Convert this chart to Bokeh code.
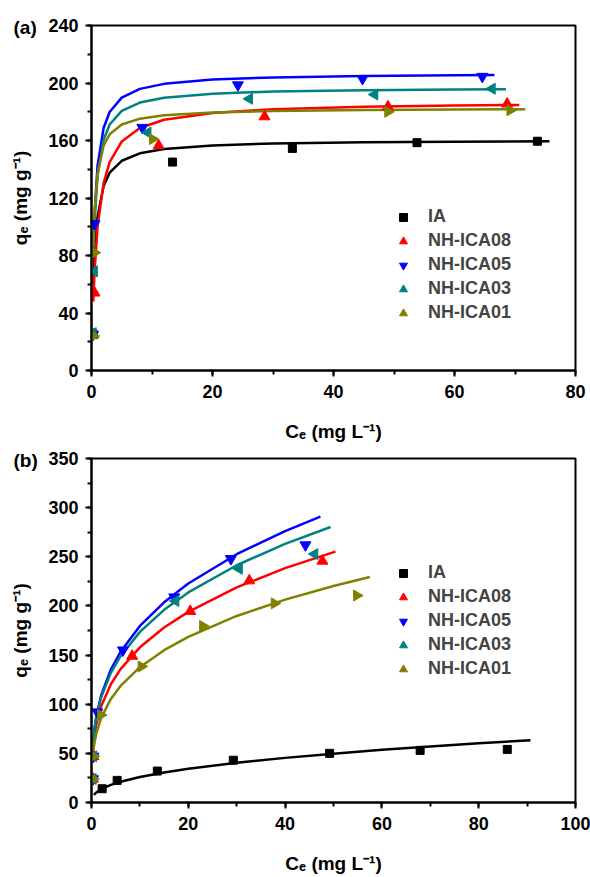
import math
from bokeh.plotting import figure
from bokeh.models import Range1d, Legend, LegendItem, Title, SingleIntervalTicker
from bokeh.layouts import column
from bokeh.embed import file_html
from bokeh.resources import INLINE

SERIES = ["IA", "NH-ICA08", "NH-ICA05", "NH-ICA03", "NH-ICA01"]
COLORS = ["#000000", "#FF0000", "#0000FF", "#008080", "#808000"]

# ---------------- panel (a): measured points ----------------
a_ia_ce = [0.3, 13.4, 33.2, 53.8, 73.7]
a_ia_qe = [25, 145, 154.5, 158.5, 159.5]
a_08_ce = [0.3, 0.5, 11.1, 28.6, 49.0, 68.7]
a_08_qe = [25, 54, 156.5, 176.6, 183.5, 185.5]
a_05_ce = [0.25, 0.5, 8.4, 24.2, 44.8, 64.6]
a_05_qe = [25, 102, 169, 198.6, 203, 204.5]
a_03_ce = [0.25, 0.45, 9.3, 26.1, 46.8, 66.2]
a_03_qe = [26, 69, 165.5, 189, 192, 196]
a_01_ce = [0.3, 0.5, 10.1, 49.0, 69.2]
a_01_qe = [24, 82, 161, 180, 181]

# panel (a): fitted curves
a_fit_ia_ce = [0.3, 0.5, 1, 2, 3, 5, 8, 12, 20, 30, 45, 60, 75.7]
a_fit_ia_qe = [60.2, 80.3, 107.0, 128.4, 137.6, 145.9, 151.1, 154.1, 156.6, 157.9, 158.7, 159.2, 159.4]
a_fit_08_ce = [0.3, 0.5, 1, 2, 3, 5, 8, 12, 20, 30, 45, 60, 70.7]
a_fit_08_qe = [48.0, 68.3, 100.0, 130.3, 145.0, 159.3, 168.7, 174.4, 179.2, 181.7, 183.5, 184.3, 184.7]
a_fit_05_ce = [0.3, 0.5, 1, 2, 3, 5, 8, 12, 20, 30, 45, 60, 66.6]
a_fit_05_qe = [82.3, 108.4, 142.3, 168.7, 179.8, 189.8, 195.9, 199.4, 202.4, 203.9, 204.9, 205.4, 205.6]
a_fit_03_ce = [0.3, 0.5, 1, 2, 3, 5, 8, 12, 20, 30, 45, 60, 68.5]
a_fit_03_qe = [78.3, 103.2, 135.4, 160.5, 171.1, 180.6, 186.4, 189.8, 192.6, 194.1, 195.0, 195.5, 195.7]
a_fit_01_ce = [0.3, 0.5, 1, 2, 3, 5, 8, 12, 20, 30, 45, 60, 71.7]
a_fit_01_qe = [86.4, 109.5, 136.9, 156.4, 164.3, 171.1, 175.2, 177.6, 179.5, 180.5, 181.2, 181.5, 181.7]

# ---------------- panel (b): measured points ----------------
b_ia_ce = [2.2, 5.3, 13.6, 29.3, 49.2, 67.9, 85.9]
b_ia_qe = [14, 22.5, 32, 43, 50, 53, 54]
b_08_ce = [0.3, 0.4, 8.4, 20.4, 32.6, 47.7]
b_08_qe = [24, 47, 149, 194.6, 225.7, 245.7]
b_05_ce = [0.3, 0.4, 1.2, 6.5, 17.1, 28.8, 44.2]
b_05_qe = [24, 47, 92, 155, 209, 248, 262]
b_03_ce = [0.3, 0.4, 17.4, 30.5, 46.1]
b_03_qe = [24, 47, 205, 237.8, 252.8]
b_01_ce = [0.3, 0.4, 1.9, 10.3, 23.0, 37.8, 54.8]
b_01_qe = [24, 47, 89, 138.4, 179.5, 202.6, 210.6]

# panel (b): fitted curves
b_fit_ia_ce = [0.5, 1, 2, 4, 6, 10, 15, 20, 30, 40, 50, 60, 70, 80, 90.7]
b_fit_ia_qe = [7.7, 10.2, 13.5, 17.9, 21.1, 25.9, 30.5, 34.3, 40.4, 45.4, 49.7, 53.6, 57.0, 60.2, 63.3]
b_fit_08_ce = [0.2, 0.5, 1, 2, 4, 6, 10, 15, 20, 30, 40, 50.4]
b_fit_08_qe = [49.4, 64.9, 79.7, 97.9, 120.3, 135.7, 157.9, 178.1, 194.0, 218.8, 238.4, 255.3]
b_fit_05_ce = [0.2, 0.5, 1, 2, 4, 6, 10, 15, 20, 30, 40, 47.3]
b_fit_05_qe = [53.4, 71.0, 88.0, 109.1, 135.3, 153.4, 179.7, 203.7, 222.8, 252.6, 276.2, 290.9]
b_fit_03_ce = [0.2, 0.5, 1, 2, 4, 6, 10, 15, 20, 30, 40, 49.4]
b_fit_03_qe = [53.7, 70.7, 87.0, 107.1, 131.9, 148.9, 173.6, 196.0, 213.7, 241.4, 263.1, 280.3]
b_fit_01_ce = [0.3, 0.5, 1, 2, 4, 6, 10, 15, 20, 30, 40, 50, 57.5]
b_fit_01_qe = [49.5, 57.4, 70.3, 86.1, 105.4, 118.6, 137.7, 155.0, 168.6, 189.8, 206.4, 220.3, 229.5]

A_X_MAX, A_Y_MAX, A_X_STEP, A_Y_STEP = 80, 240, 20, 40
B_X_MAX, B_Y_MAX, B_X_STEP, B_Y_STEP = 100, 350, 20, 50

X_TITLE = "C\u2091 (mg L\u207b\u00b9)"
Y_TITLE = "q\u2091 (mg g\u207b\u00b9)"

FONT = "Liberation Sans"
MARKERS = [("square", 0.0, 8), ("triangle", 0.0, 11), ("inverted_triangle", 0.0, 11),
           ("triangle", math.pi / 2, 11), ("triangle", -math.pi / 2, 11)]


def make_panel(height, btop, bbot, xmax, ymax, xstep, ystep, pts, fits, tag, leg_loc):
    p = figure(width=590, height=height, output_backend="svg", toolbar_location=None,
               x_range=Range1d(0, xmax), y_range=Range1d(0, ymax),
               min_border_left=91, min_border_right=15, min_border_top=btop, min_border_bottom=bbot)
    p.grid.visible = False
    p.outline_line_color = "black"
    p.outline_line_width = 2
    p.outline_line_alpha = 1
    p.xaxis.ticker = SingleIntervalTicker(interval=xstep, num_minor_ticks=2)
    p.yaxis.ticker = SingleIntervalTicker(interval=ystep, num_minor_ticks=2)
    for ax in (p.xaxis[0], p.yaxis[0]):
        ax.axis_line_width = 2
        ax.major_tick_line_width = 2
        ax.minor_tick_line_width = 2
        ax.major_tick_out = 6
        ax.major_tick_in = 0
        ax.minor_tick_out = 4
        ax.minor_tick_in = 0
        ax.major_label_text_font = FONT
        ax.major_label_text_font_style = "bold"
        ax.major_label_text_font_size = "18px"
        ax.major_label_text_color = "black"
        ax.axis_label_text_font = FONT
        ax.axis_label_text_font_style = "bold"
        ax.axis_label_text_font_size = "19px"
        ax.axis_label_text_color = "black"
    p.xaxis.axis_label = X_TITLE
    p.yaxis.axis_label = Y_TITLE
    p.xaxis.major_label_standoff = 8
    p.xaxis.axis_label_standoff = 20
    p.yaxis.major_label_standoff = 7
    p.yaxis.axis_label_standoff = 14

    items = []
    for i, name in enumerate(SERIES):
        fx, fy = fits[i]
        p.line(fx, fy, line_color=COLORS[i], line_width=2.5)
    for i, name in enumerate(SERIES):
        px, py = pts[i]
        mk, ang, sz = MARKERS[i]
        r = p.scatter(px, py, marker=mk, angle=ang, size=sz, fill_color=COLORS[i], line_color=COLORS[i])
        items.append(LegendItem(label=name, renderers=[r]))

    legend = Legend(items=items, location=leg_loc, orientation="vertical",
                    glyph_width=20, glyph_height=20, label_height=20, label_standoff=15,
                    spacing=3, padding=0, margin=0, border_line_alpha=0, background_fill_alpha=0,
                    label_text_font=FONT, label_text_font_style="bold", label_text_font_size="18px")
    p.add_layout(legend)

    p.add_layout(Title(text=tag, align="left", offset=-78, standoff=-24,
                       text_font=FONT, text_font_style="bold", text_font_size="19px",
                       text_color="black"), "above")
    return p


pa = make_panel(444, 25, 71, A_X_MAX, A_Y_MAX, A_X_STEP, A_Y_STEP,
                [(a_ia_ce, a_ia_qe), (a_08_ce, a_08_qe), (a_05_ce, a_05_qe), (a_03_ce, a_03_qe), (a_01_ce, a_01_qe)],
                [(a_fit_ia_ce, a_fit_ia_qe), (a_fit_08_ce, a_fit_08_qe), (a_fit_05_ce, a_fit_05_qe),
                 (a_fit_03_ce, a_fit_03_qe), (a_fit_01_ce, a_fit_01_qe)],
                "(a)", (302, 47))
pb = make_panel(432, 14, 69, B_X_MAX, B_Y_MAX, B_X_STEP, B_Y_STEP,
                [(b_ia_ce, b_ia_qe), (b_08_ce, b_08_qe), (b_05_ce, b_05_qe), (b_03_ce, b_03_qe), (b_01_ce, b_01_qe)],
                [(b_fit_ia_ce, b_fit_ia_qe), (b_fit_08_ce, b_fit_08_qe), (b_fit_05_ce, b_fit_05_qe),
                 (b_fit_03_ce, b_fit_03_qe), (b_fit_01_ce, b_fit_01_qe)],
                "(b)", (302, 123))

layout = column(pa, pb, spacing=0)
open("out.html", "w").write(file_html(layout, INLINE))
